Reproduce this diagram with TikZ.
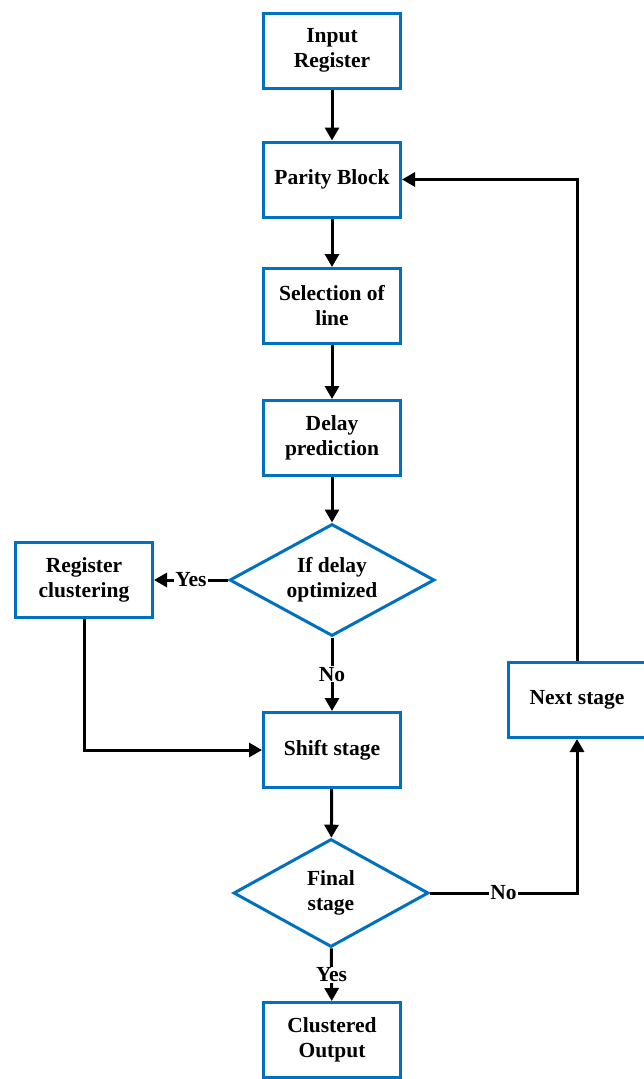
\documentclass[tikz,border=0pt]{standalone}
\usepackage{fontspec}
\setmainfont{Liberation Serif}
\usetikzlibrary{arrows.meta, shapes.geometric}
\definecolor{boxblue}{RGB}{0,112,192}

\begin{document}
\begin{tikzpicture}[x=1pt, y=-1pt,
    block/.style={draw=boxblue, line width=3pt, fill=white, inner sep=2pt,
        minimum width=137pt, minimum height=75pt, align=center,
        font=\fontsize{21.5}{25}\selectfont\bfseries},
    decision/.style={diamond, aspect=1.8, draw=boxblue, line width=3pt, fill=white,
        inner sep=0pt, align=center, font=\fontsize{21.5}{25}\selectfont\bfseries},
    flow/.style={line width=3pt, -{Triangle[length=13pt, width=14pt]}},
    lbl/.style={fill=white, inner sep=1pt, font=\fontsize{21.5}{25}\selectfont\bfseries},
]
\useasboundingbox (0,0) rectangle (644,1079);

\node[block] (input)    at (332,50.5)  {Input\\Register};
\node[block] (parity)   at (332,179.5) {Parity Block};
\node[block] (select)   at (332,306)   {Selection of\\line};
\node[block] (delay)    at (332,438)   {Delay\\prediction};
\node[decision, minimum width=205pt, minimum height=112pt] (ifdelay) at (332,580) {If delay\\optimized};
\node[block] (regclust) at (84,580)    {Register\\clustering};
\node[block] (shift)    at (332,750)   {Shift stage};
\node[decision, minimum width=195pt, minimum height=108pt] (final) at (331,893) {Final\\stage};
\node[block] (output)   at (332,1040)  {Clustered\\Output};
\node[block] (next)     at (577,700)   {Next stage};

\draw[flow] (input) -- (parity);
\draw[flow] (parity) -- (select);
\draw[flow] (select) -- (delay);
\draw[flow] (delay) -- (ifdelay);
\draw[flow] (ifdelay) -- node[lbl] {Yes} (regclust);
\draw[flow] (ifdelay) -- node[lbl] {No} (shift);
\draw[flow] (regclust) |- (shift);
\draw[flow] (shift) -- (final);
\draw[flow] (final) -- node[lbl] {Yes} (output);
\draw[flow] (final) -| node[lbl, pos=0.25] {No} (next);
\draw[flow] (next) |- (parity);
\end{tikzpicture}
\end{document}
